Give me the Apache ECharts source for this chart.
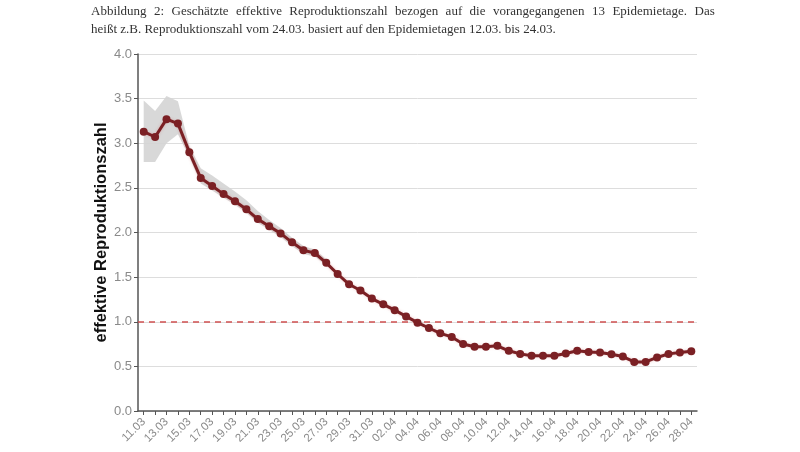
<!DOCTYPE html>
<html>
<head>
<meta charset="utf-8">
<script src="https://cdn.jsdelivr.net/npm/echarts@6/dist/echarts.min.js"></script>
<style>html,body{margin:0;padding:0;background:#fff;}#c{width:800px;height:452px;}</style>
</head>
<body>
<div id="c"></div>
<script>
const titleLine1Words = ["Abbildung","2:","Geschätzte","effektive","Reproduktionszahl","bezogen","auf","die","vorangegangenen","13","Epidemietage.","Das"];
const titleLine2 = "heißt z.B. Reproduktionszahl vom 24.03. basiert auf den Epidemietagen 12.03. bis 24.03.";
const yAxisName = "effektive Reproduktionszahl";
const dates = [
  "11.03","12.03","13.03","14.03","15.03","16.03","17.03","18.03","19.03","20.03",
  "21.03","22.03","23.03","24.03","25.03","26.03","27.03","28.03","29.03","30.03",
  "31.03","01.04","02.04","03.04","04.04","05.04","06.04","07.04","08.04","09.04",
  "10.04","11.04","12.04","13.04","14.04","15.04","16.04","17.04","18.04","19.04",
  "20.04","21.04","22.04","23.04","24.04","25.04","26.04","27.04","28.04"
];
const rValues = [
  3.13,3.07,3.27,3.22,2.90,2.61,2.52,2.43,2.35,2.26,
  2.15,2.07,1.99,1.89,1.80,1.77,1.66,1.535,1.42,1.35,
  1.26,1.195,1.13,1.06,0.99,0.93,0.87,0.83,0.75,0.72,
  0.72,0.73,0.675,0.64,0.62,0.62,0.62,0.645,0.675,0.66,
  0.655,0.635,0.61,0.55,0.55,0.60,0.64,0.655,0.67
];
const bandLower = [2.79,2.79,3.00,3.10,2.85,2.55,2.47,2.39,2.31,2.22,2.11,2.03,1.95,1.85,1.76,1.73,1.63];
const bandUpper = [3.48,3.36,3.53,3.47,2.97,2.72,2.64,2.55,2.46,2.36,2.24,2.14,2.05,1.94,1.85,1.81,1.70];
const refValue = 1.0;

const bandDiff = bandUpper.map((u, i) => +(u - bandLower[i]).toFixed(3));
const titleFont = {fontFamily: 'Liberation Serif', fontSize: 13, fontWeight: 'normal', color: '#333', lineHeight: 17};

const chart = echarts.init(document.getElementById('c'), null, {renderer: 'canvas'});
chart.setOption({
  animation: false,
  backgroundColor: '#ffffff',
  title: [
    {
      text: titleLine1Words.join('{sp| }'),
      left: 91, top: 3, padding: 0,
      textStyle: Object.assign({}, titleFont, {rich: {sp: {width: 7.4, fontSize: 13, fontFamily: 'Liberation Serif'}}})
    },
    {
      text: titleLine2,
      left: 91, top: 21, padding: 0,
      textStyle: titleFont
    }
  ],
  grid: {left: 138, right: 103, top: 54, bottom: 41, containLabel: false},
  xAxis: {
    type: 'category',
    data: dates,
    boundaryGap: true,
    axisLine: {lineStyle: {color: '#555', width: 1.5}},
    axisTick: {show: true, interval: 0, alignWithLabel: true, length: 4, lineStyle: {color: '#555'}},
    axisLabel: {interval: 1, rotate: 45, color: '#8a8a8a', fontSize: 11.5, fontFamily: 'Liberation Sans', margin: 9},
    splitLine: {show: false}
  },
  yAxis: {
    type: 'value',
    min: 0, max: 4, interval: 0.5,
    name: yAxisName,
    nameLocation: 'middle',
    nameGap: 28,
    nameMoveOverlap: false,
    nameTextStyle: {fontFamily: 'Liberation Sans', fontSize: 16.5, fontWeight: 'bold', color: '#111'},
    axisLine: {show: true, lineStyle: {color: '#555', width: 1.5}},
    axisTick: {show: true, length: 4, lineStyle: {color: '#555'}},
    axisLabel: {color: '#8a8a8a', fontSize: 13, fontFamily: 'Liberation Sans', margin: 6, formatter: v => v.toFixed(1)},
    splitLine: {show: true, lineStyle: {color: '#dddddd', width: 1}}
  },
  series: [
    {
      type: 'line', data: bandLower, stack: 'band', symbol: 'none', silent: true,
      lineStyle: {opacity: 0}, areaStyle: {opacity: 0}
    },
    {
      type: 'line', data: bandDiff, stack: 'band', symbol: 'none', silent: true,
      lineStyle: {opacity: 0}, areaStyle: {color: '#d4d4d4', opacity: 0.9}
    },
    {
      type: 'line', data: rValues,
      symbol: 'circle', symbolSize: 8, showAllSymbol: true,
      itemStyle: {color: '#7b2024'},
      lineStyle: {color: '#7b2024', width: 3, shadowColor: 'rgba(200,80,80,0.35)', shadowBlur: 3},
      markLine: {
        silent: true, symbol: 'none', label: {show: false},
        lineStyle: {color: '#d05050', type: [6, 5], width: 1.5},
        data: [{yAxis: refValue}]
      },
      z: 5
    }
  ]
});
</script>
</body>
</html>
